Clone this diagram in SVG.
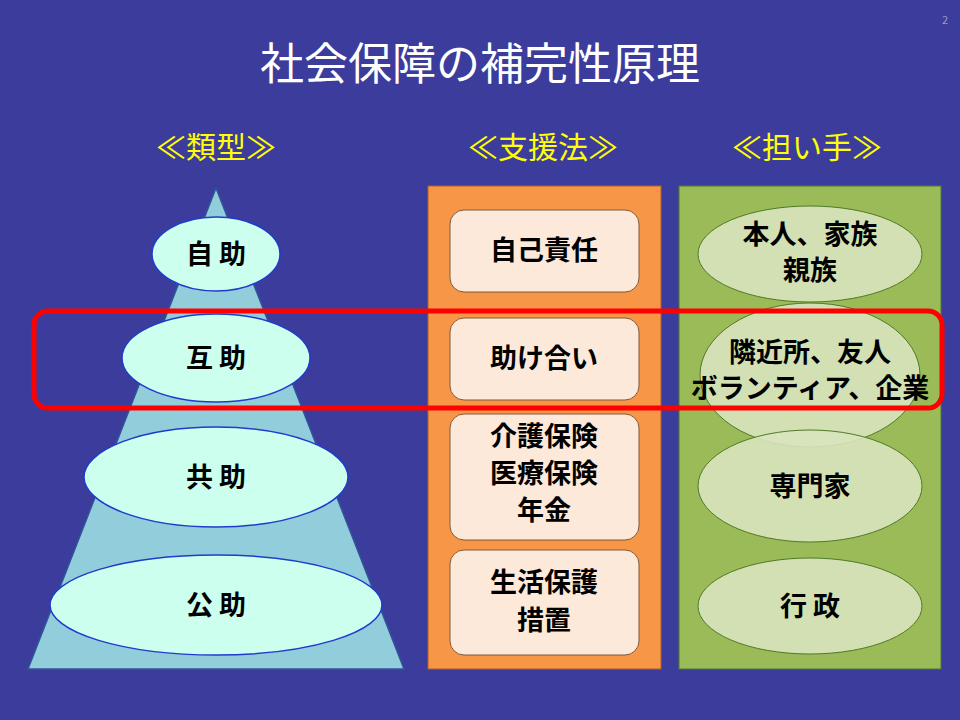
<svg xmlns="http://www.w3.org/2000/svg" width="960" height="720" viewBox="0 0 960 720">
<style>
text{font-family:"Noto Sans CJK JP","Liberation Sans",sans-serif;font-weight:bold;text-anchor:middle}
.t{font-size:27px;fill:#000}
.h{font-size:30px;fill:#ffff00;font-weight:normal}
.el{fill:#ccffee;stroke:#1f3ccc;stroke-width:1.5}
.box{fill:#fde9d9;stroke:#7f5a3a;stroke-width:1}
.gel{fill:#d8e4bc;stroke:#4f7a28;stroke-width:1;fill-opacity:0.9}
</style>
<rect width="960" height="720" fill="#3c3c9c"/>
<text x="945" y="24" style="font-size:11px;fill:#9999cc;font-weight:normal">2</text>
<text x="480" y="80" style="font-size:44px;fill:#fff;font-weight:normal">社会保障の補完性原理</text>
<text class="h" x="216" y="158">≪類型≫</text>
<text class="h" x="543" y="158">≪支援法≫</text>
<text class="h" x="807" y="158">≪担い手≫</text>
<g id="pyramid"><polygon points="216,188 28,669 404,669" fill="#92cddc" stroke="#2f5597" stroke-width="1.5"/></g>
<g id="jijo"><ellipse class="el" cx="216" cy="254" rx="64" ry="37"/><text class="t" x="216" y="264">自 助</text></g>
<g id="gojo"><ellipse class="el" cx="216" cy="358" rx="94" ry="44"/><text class="t" x="216" y="368">互 助</text></g>
<g id="kyojo"><ellipse class="el" cx="216" cy="477" rx="132" ry="50"/><text class="t" x="216" y="487">共 助</text></g>
<g id="kojo"><ellipse class="el" cx="216" cy="605" rx="166" ry="50"/><text class="t" x="216" y="615">公 助</text></g>
<g id="col2"><rect x="428" y="186" width="233" height="483" fill="#f79646" stroke="#b35f1e" stroke-width="1"/>
<rect class="box" x="450" y="210" width="189" height="82" rx="14"/><text class="t" x="544" y="260">自己責任</text>
<rect class="box" x="450" y="318" width="189" height="82" rx="14"/><text class="t" x="544" y="368">助け合い</text>
<rect class="box" x="450" y="414" width="189" height="126" rx="14"/><text class="t" x="544" y="446">介護保険</text><text class="t" x="544" y="483">医療保険</text><text class="t" x="544" y="520">年金</text>
<rect class="box" x="450" y="550" width="189" height="105" rx="14"/><text class="t" x="544" y="592">生活保護</text><text class="t" x="544" y="630">措置</text></g>
<g id="col3"><rect x="679" y="186" width="262" height="483" fill="#9bbb59" stroke="#4f7a28" stroke-width="1"/>
<ellipse class="gel" cx="810" cy="375" rx="110" ry="72"/>
<ellipse class="gel" cx="810" cy="254" rx="112" ry="48"/>
<text class="t" x="810" y="244">本人、家族</text><text class="t" x="810" y="280">親族</text>
<text class="t" x="810" y="362">隣近所、友人</text><text class="t" x="810" y="398">ボランティア、企業</text>
<ellipse class="gel" cx="810" cy="486" rx="112" ry="56"/><text class="t" x="810" y="496">専門家</text>
<ellipse class="gel" cx="810" cy="606" rx="112" ry="48"/><text class="t" x="810" y="616">行 政</text></g>
<g id="highlight"><rect x="34" y="311" width="908" height="97" rx="14" fill="none" stroke="#ff0000" stroke-width="5"/></g>
</svg>
